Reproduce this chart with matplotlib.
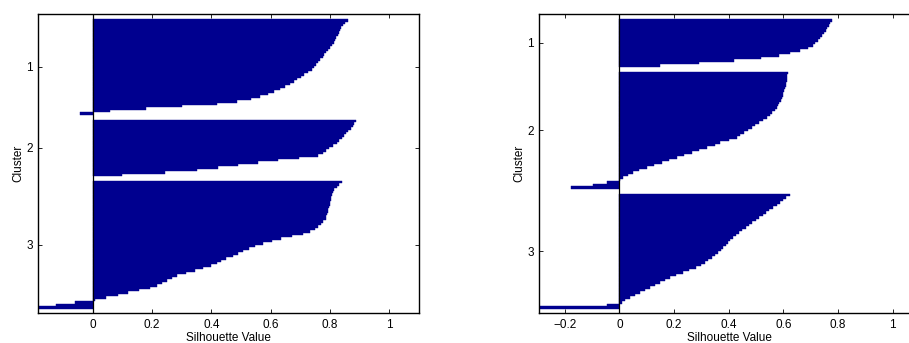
import numpy as np
import matplotlib
matplotlib.use("Agg")
import matplotlib.pyplot as plt

plt.rcParams['font.family'] = ['Liberation Sans', 'DejaVu Sans']
plt.rcParams['axes.unicode_minus'] = True

cluster_labels = ["1", "2", "3"]
xticks_left = [0, 0.2, 0.4, 0.6, 0.8, 1]
xticks_right = [-0.2, 0, 0.2, 0.4, 0.6, 0.8, 1]

# Left panel: sorted silhouette values per cluster
left_c1 = [0.862, 0.852, 0.845, 0.838, 0.834, 0.830, 0.826, 0.821, 0.816, 0.812,
           0.806, 0.800, 0.794, 0.787, 0.781, 0.775, 0.768, 0.760, 0.752, 0.745,
           0.738, 0.727, 0.714, 0.702, 0.690, 0.678, 0.664, 0.648, 0.632, 0.612,
           0.590, 0.565, 0.535, 0.485, 0.420, 0.300, 0.180, 0.060, -0.043]
left_c2 = [0.888, 0.882, 0.876, 0.870, 0.862, 0.855, 0.848, 0.840, 0.832, 0.822,
           0.810, 0.798, 0.786, 0.775, 0.760, 0.694, 0.626, 0.557, 0.489, 0.421,
           0.353, 0.245, 0.100]
left_c3 = [0.840, 0.831, 0.822, 0.815, 0.810, 0.807, 0.805, 0.803, 0.801, 0.799,
           0.797, 0.795, 0.793, 0.791, 0.788, 0.785, 0.778, 0.770, 0.760, 0.748,
           0.732, 0.710, 0.672, 0.635, 0.605, 0.575, 0.548, 0.527, 0.508, 0.490,
           0.472, 0.448, 0.432, 0.418, 0.398, 0.372, 0.345, 0.314, 0.285, 0.268,
           0.252, 0.235, 0.216, 0.195, 0.155, 0.120, 0.086, 0.045, 0.008, -0.060,
           -0.122, -0.183]

# Right panel
right_c1 = [0.779, 0.772, 0.766, 0.761, 0.756, 0.750, 0.743, 0.735, 0.727, 0.717,
            0.708, 0.690, 0.662, 0.625, 0.585, 0.520, 0.420, 0.290, 0.150]
right_c2 = [0.617, 0.615, 0.613, 0.612, 0.610, 0.608, 0.606, 0.603, 0.600, 0.597,
            0.594, 0.590, 0.585, 0.580, 0.575, 0.568, 0.560, 0.550, 0.540, 0.526,
            0.511, 0.498, 0.484, 0.470, 0.457, 0.443, 0.429, 0.400, 0.370, 0.350,
            0.320, 0.292, 0.265, 0.238, 0.210, 0.183, 0.155, 0.128, 0.100, 0.072,
            0.050, 0.030, 0.015, 0.003, -0.045, -0.095, -0.177]
right_c3 = [0.626, 0.611, 0.600, 0.588, 0.576, 0.562, 0.548, 0.536, 0.524, 0.512,
            0.500, 0.486, 0.473, 0.462, 0.450, 0.439, 0.428, 0.416, 0.406, 0.397,
            0.389, 0.380, 0.371, 0.361, 0.350, 0.338, 0.326, 0.314, 0.300, 0.280,
            0.255, 0.232, 0.208, 0.186, 0.168, 0.150, 0.131, 0.113, 0.094, 0.076,
            0.058, 0.040, 0.022, 0.008, -0.045, -0.293]

NAVY = "#00008f"
FS = 8.5


def fmt(t):
    s = "%g" % t
    return s.replace("-", "\u2212")


def silhouette_panel(ax, clusters, xticks):
    gap = 2.0
    pos = 2.2
    ticks = []
    allvals = []
    for vals in clusters:
        n = len(vals)
        y = pos + np.arange(n) + 0.5
        ax.barh(y, vals, height=1.0, color=NAVY, edgecolor=NAVY, linewidth=0.3)
        ticks.append(pos + n / 2.0)
        allvals.extend(vals)
        pos += n + gap
    bottom = pos - gap + 1.9
    ax.set_ylim(bottom, 0)
    ax.set_xlim(min(allvals), 1.1)
    ax.axvline(0, color="black", lw=0.9)
    ax.set_yticks(ticks)
    ax.set_yticklabels(cluster_labels)
    ax.set_xticks(xticks)
    ax.set_xticklabels([fmt(t) for t in xticks])
    ax.tick_params(direction="in", top=True, right=True, length=3, width=0.6,
                   labelsize=FS, pad=4)
    for s in ax.spines.values():
        s.set_linewidth(1.0)
    ax.set_xlabel("Silhouette Value", fontsize=FS, labelpad=1)
    ax.set_ylabel("Cluster", fontsize=FS, labelpad=1)


fig = plt.figure(figsize=(9.09, 3.43), dpi=100)
axw = 380.7 / 909
axh = 299.6 / 343
axb = (343 - 313.3) / 343
ax1 = fig.add_axes([38.3 / 909, axb, axw, axh])
ax2 = fig.add_axes([539.3 / 909, axb, axw, axh])

silhouette_panel(ax1, [left_c1, left_c2, left_c3], xticks_left)
silhouette_panel(ax2, [right_c1, right_c2, right_c3], xticks_right)

fig.savefig("out.png", dpi=100)
